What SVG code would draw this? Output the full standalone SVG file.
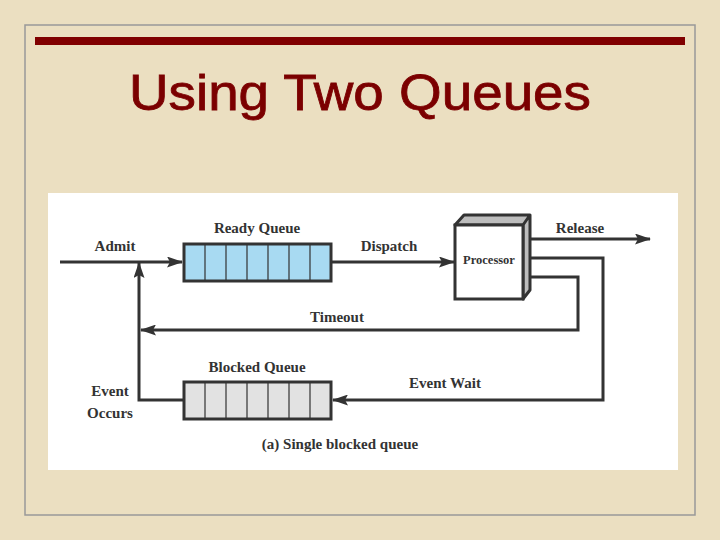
<svg xmlns="http://www.w3.org/2000/svg" width="720" height="540" viewBox="0 0 720 540">
<defs>
<style>
.l{font-family:"Liberation Serif",serif;font-weight:bold;font-size:15px;fill:#333;text-anchor:middle}
.w{stroke:#333;stroke-width:3;fill:none}
.q{stroke:#333;stroke-width:3}
.c{stroke:#333;stroke-width:1.2}
</style>
<marker id="a" viewBox="0 0 16 11" refX="15" refY="5.5" markerWidth="16" markerHeight="11" markerUnits="userSpaceOnUse" orient="auto"><path d="M0,0L16,5.5L0,11L3,5.5Z" fill="#333"/></marker>
</defs>
<rect width="720" height="540" fill="#EBDFC1"/>
<rect x="25" y="25" width="670" height="490" fill="none" stroke="#999" stroke-width="1.5"/>
<rect x="35" y="37" width="650" height="8" fill="#800000"/>
<text x="360" y="110" font-family="Liberation Sans,sans-serif" font-size="50" fill="#7B0000" stroke="#7B0000" stroke-width="0.8" text-anchor="middle" textLength="462" lengthAdjust="spacingAndGlyphs">Using Two Queues</text>
<rect x="48" y="193" width="630" height="277" fill="#fff"/>
<g id="connectors">
<path class="w" d="M60,262H182" marker-end="url(#a)"/>
<path class="w" d="M332,262H454" marker-end="url(#a)"/>
<path class="w" d="M527,239H650" marker-end="url(#a)"/>
<path class="w" d="M527,258H603V400H333" marker-end="url(#a)"/>
<path class="w" d="M527,277H578V330H141" marker-end="url(#a)"/>
<path class="w" d="M183,400H139V263" marker-end="url(#a)"/>
</g>
<g id="ready">
<rect x="184" y="244" width="147" height="37" fill="#A8DAF2" class="q"/>
<path class="c" d="M205,244V281M226,244V281M247,244V281M268,244V281M289,244V281M310,244V281"/>
<text class="l" x="257" y="233">Ready Queue</text>
</g>
<g id="blocked">
<rect x="184" y="382" width="147" height="37" fill="#E2E2E2" class="q"/>
<path class="c" d="M205,382V419M226,382V419M247,382V419M268,382V419M289,382V419M310,382V419"/>
<text class="l" x="257" y="372">Blocked Queue</text>
</g>
<g id="processor">
<path d="M455,225L464,215H530L523,225ZM523,225L530,215V290L523,299Z" fill="#BDBDBD" stroke="#333" stroke-width="3" stroke-linejoin="round"/>
<rect x="455" y="225" width="68" height="74" fill="#fff" class="q"/>
<text class="l" x="489" y="264" style="font-size:12.5px">Processor</text>
</g>
<g id="labels">
<text class="l" x="115" y="251">Admit</text>
<text class="l" x="389" y="251">Dispatch</text>
<text class="l" x="580" y="233">Release</text>
<text class="l" x="337" y="322">Timeout</text>
<text class="l" x="445" y="388">Event Wait</text>
<text class="l" x="110" y="396">Event</text>
<text class="l" x="110" y="418">Occurs</text>
<text class="l" x="340" y="449">(a) Single blocked queue</text>
</g>
</svg>
